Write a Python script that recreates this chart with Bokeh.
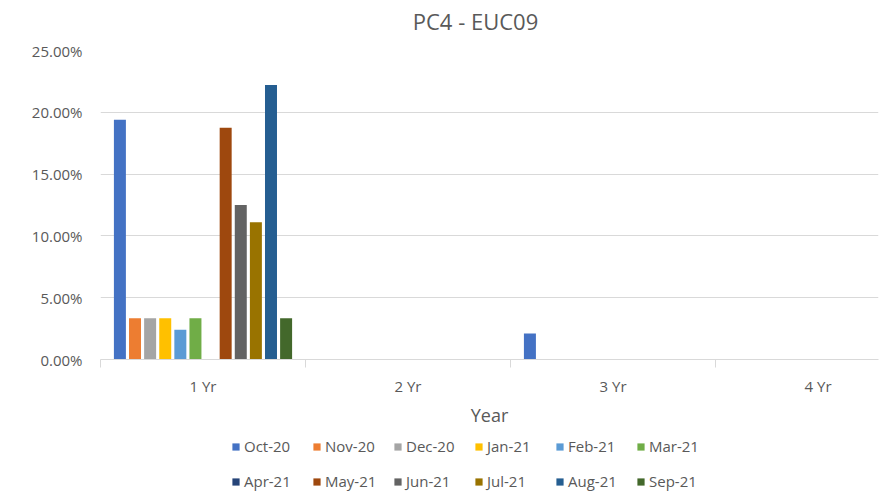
from bokeh.plotting import figure
from bokeh.layouts import column
from bokeh.models import (ColumnDataSource, Range1d, FixedTicker, NumeralTickFormatter,
                          Legend, LegendItem, Label)
from bokeh.embed import file_html
from bokeh.resources import INLINE

title_text = "PC4 - EUC09"
years = ["1 Yr", "2 Yr", "3 Yr", "4 Yr"]
months = ["Oct-20", "Nov-20", "Dec-20", "Jan-21", "Feb-21", "Mar-21",
          "Apr-21", "May-21", "Jun-21", "Jul-21", "Aug-21", "Sep-21"]
oct20 = [0.194, 0.0, 0.021, 0.0]
nov20 = [0.0333, 0.0, 0.0, 0.0]
dec20 = [0.0333, 0.0, 0.0, 0.0]
jan21 = [0.0333, 0.0, 0.0, 0.0]
feb21 = [0.024, 0.0, 0.0, 0.0]
mar21 = [0.0333, 0.0, 0.0, 0.0]
apr21 = [0.0, 0.0, 0.0, 0.0]
may21 = [0.1875, 0.0, 0.0, 0.0]
jun21 = [0.125, 0.0, 0.0, 0.0]
jul21 = [0.111, 0.0, 0.0, 0.0]
aug21 = [0.222, 0.0, 0.0, 0.0]
sep21 = [0.0333, 0.0, 0.0, 0.0]
series = [oct20, nov20, dec20, jan21, feb21, mar21,
          apr21, may21, jun21, jul21, aug21, sep21]
colors = ["#4472C4", "#ED7D31", "#A5A5A5", "#FFC000", "#5B9BD5", "#70AD47",
          "#264478", "#9E480E", "#636363", "#997300", "#255E91", "#43682B"]
y_ticks = [0, 0.05, 0.10, 0.15, 0.20, 0.25]

FONT = "Open Sans"
TXT = "#595959"
GRID = "#D9D9D9"


def strip(h):
    f = figure(width=880, height=h, output_backend="svg", toolbar_location=None,
               x_range=Range1d(0, 1), y_range=Range1d(0, 1),
               x_axis_location=None, y_axis_location=None,
               min_border=0, min_border_left=0, min_border_right=0,
               min_border_top=0, min_border_bottom=0)
    f.grid.visible = False
    f.outline_line_color = None
    f.background_fill_color = "white"
    f.border_fill_color = "white"
    return f


# title strip (its frame is aligned with the chart frame, which starts 100px in)
tp = strip(40)
tp.add_layout(Label(x=375, y=20, x_units="screen", y_units="screen",
                    text=title_text, text_align="center", text_baseline="middle",
                    text_font=FONT, text_font_size="22px", text_color=TXT))

# main chart
p = figure(width=880, height=390, output_backend="svg", toolbar_location=None,
           x_range=Range1d(0, 3.795), y_range=Range1d(0, 0.25),
           min_border_left=100, min_border_right=2, min_border_top=10,
           min_border_bottom=71)
p.outline_line_color = None
p.background_fill_color = "white"
p.border_fill_color = "white"

step = 0.0737
bw = 0.0585
centers = [i + 0.5 for i in range(len(years))]
for m, (name, vals, col) in enumerate(zip(months, series, colors)):
    xs = [c + (m - 5.5) * step for c in centers]
    src = ColumnDataSource(dict(x=xs, top=vals))
    p.vbar(x="x", top="top", width=bw, bottom=0, source=src,
           fill_color=col, line_color=None)

# x axis
xa = p.xaxis[0]
xa.ticker = FixedTicker(ticks=centers, minor_ticks=[0, 1, 2, 3, 4])
xa.major_label_overrides = {c: y for c, y in zip(centers, years)}
xa.major_tick_line_color = None
xa.major_tick_out = 0
xa.major_tick_in = 0
xa.minor_tick_line_color = GRID
xa.minor_tick_out = 8
xa.minor_tick_in = 0
xa.axis_line_color = GRID
xa.major_label_text_font = FONT
xa.major_label_text_font_size = "15px"
xa.major_label_text_color = TXT
xa.major_label_standoff = 8
xa.axis_label = "Year"
xa.axis_label_text_font = FONT
xa.axis_label_text_font_size = "18px"
xa.axis_label_text_font_style = "normal"
xa.axis_label_text_color = TXT
xa.axis_label_standoff = 4

# y axis
ya = p.yaxis[0]
ya.ticker = FixedTicker(ticks=y_ticks)
ya.formatter = NumeralTickFormatter(format="0.00%")
ya.axis_line_color = None
ya.major_tick_line_color = None
ya.minor_tick_line_color = None
ya.major_tick_out = 0
ya.major_label_standoff = 18
ya.major_label_text_font = FONT
ya.major_label_text_font_size = "15px"
ya.major_label_text_color = TXT

p.xgrid.grid_line_color = None
p.ygrid.grid_line_color = GRID
p.ygrid.ticker = FixedTicker(ticks=y_ticks)

# legend strip (key swatches only; the NaN row draws nothing)
lg = strip(62)
items = []
for name, col in zip(months, colors):
    r = lg.vbar(x="x", top="top", width=0.1, bottom=0,
                source=ColumnDataSource(dict(x=[float("nan")], top=[float("nan")])),
                fill_color=col, line_color=None)
    items.append(LegendItem(label=name, renderers=[r]))


def make_legend(its, y):
    return Legend(items=its, orientation="horizontal",
                  location=(131, y), glyph_width=9, glyph_height=9,
                  label_standoff=4, label_width=53, label_height=20, spacing=15,
                  label_text_font=FONT, label_text_font_size="15px",
                  label_text_color=TXT, border_line_color=None,
                  background_fill_alpha=0, padding=0, margin=0)


lg.add_layout(make_legend(items[:6], 36), "center")
lg.add_layout(make_legend(items[6:], 1), "center")

open("out.html", "w").write(file_html(column(tp, p, lg, spacing=0), INLINE))
